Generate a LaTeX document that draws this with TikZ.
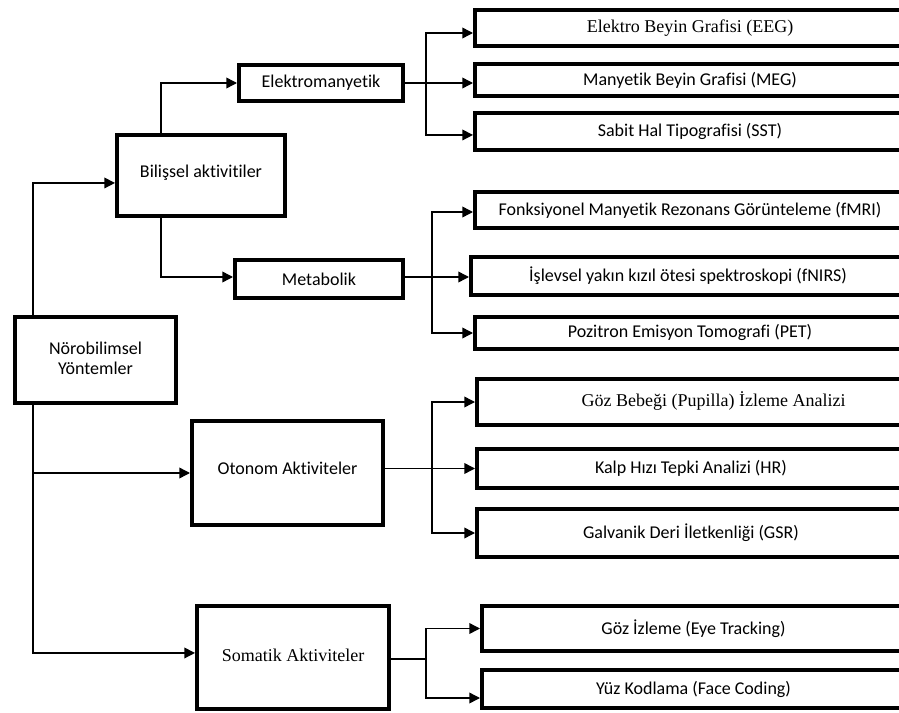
\documentclass[tikz,border=0pt]{standalone}
\usepackage{fontspec}
\setmainfont{Carlito}[Ligatures=NoCommon]
\newfontfamily\timesfont{Liberation Serif}
\usetikzlibrary{arrows.meta,positioning}
\newcommand{\shiftup}[2]{\raisebox{#1}{\begin{tabular}{@{}c@{}}#2\end{tabular}}}

\begin{document}
\begin{tikzpicture}[x=0.75pt,y=-0.75pt,
  box/.style={draw,rectangle,line width=3pt,inner sep=0pt,align=center,font=\fontsize{13.5}{15}\selectfont},
  wide/.style={box,minimum width=322.5pt},
  serif/.style={font=\fontsize{13.5}{15}\timesfont},
  conn/.style={line width=1.1pt,-{Triangle[length=8pt,width=8pt]}}]

  \useasboundingbox (0,0) rectangle (899,713);
  \fill[white] (0,0) rectangle (899,713);

  % left column
  \node[box,minimum width=120.75pt,minimum height=64.5pt] (noro) at (95.5,360) {\shiftup{6pt}{Nörobilimsel\\Yöntemler}};
  \node[box,minimum width=126pt,minimum height=60.75pt] (bilis) at (201,175.5) {\shiftup{6.4pt}{Bilişsel aktivitiler}};
  \node[box,minimum width=143.25pt,minimum height=78pt] (oton) at (287.5,473) {\shiftup{7.5pt}{Otonom Aktiviteler}};
  \node[box,serif,minimum width=144pt,minimum height=77.25pt] (somat) at (293,657.5) {\shiftup{-3.4pt}{Somatik Aktiviteler}};

  % middle column
  \node[box,minimum width=123pt,minimum height=27pt] (elek) at (321,83) {Elektromanyetik};
  \node[box,minimum width=126pt,minimum height=28.5pt] (metab) at (319,279) {Metabolik};

  % right column
  \node[wide,serif,minimum height=27pt] (eeg) at (690,28) {Elektro Beyin Grafisi (EEG)};
  \node[wide,minimum height=24pt] (meg) at (690,80) {Manyetik Beyin Grafisi (MEG)};
  \node[wide,minimum height=27.75pt] (sst) at (690,131.5) {Sabit Hal Tipografisi (SST)};
  \node[wide,minimum height=27pt] (fmri) at (690,210) {Fonksiyonel Manyetik Rezonans Görünteleme (fMRI)};
  \node[wide,minimum width=325.5pt,minimum height=28.5pt] (fnirs) at (688,276) {İşlevsel yakın kızıl ötesi spektroskopi (fNIRS)};
  \node[wide,minimum height=24pt] (pet) at (690,333) {\shiftup{-3pt}{Pozitron Emisyon Tomografi (PET)}};
  \node[wide,serif,minimum width=321pt,minimum height=34.5pt] (pupil) at (691,402) {\hspace*{34pt}\shiftup{3pt}{Göz Bebeği (Pupilla) İzleme Analizi}};
  \node[wide,minimum width=321pt,minimum height=29.25pt] (kalp) at (691,468.5) {Kalp Hızı Tepki Analizi (HR)};
  \node[wide,minimum width=321pt,minimum height=36pt] (gsr) at (691,533) {Galvanik Deri İletkenliği (GSR)};
  \node[wide,minimum width=317.25pt,minimum height=33.75pt] (eye) at (693.5,628.5) {Göz İzleme (Eye Tracking)};
  \node[wide,minimum width=317.25pt,minimum height=28.5pt] (face) at (693.5,689) {Yüz Kodlama (Face Coding)};

  % junctions
  \coordinate (emj) at (426,83);
  \coordinate (mbj) at (432,277);
  \coordinate (otj) at (432,468.5);
  \coordinate (soj) at (426,659);

  % connectors
  \draw[conn] ([xshift=15pt]noro.north west) |- ([yshift=-5.6pt]bilis.west);
  \draw[conn] ([xshift=15pt]noro.south west) |- (oton.west);
  \draw[conn] ([xshift=15pt]noro.south west) |- ([yshift=3.4pt]somat.west);

  \draw[conn] ([xshift=34.5pt]bilis.north west) |- (elek.west);
  \draw[conn] ([xshift=34.5pt]bilis.south west) |- ([yshift=1.5pt]metab.west);

  \draw[conn] (elek.east) -- (elek.east -| meg.west);
  \draw[conn] (emj) |- ([yshift=-3.75pt]eeg.west);
  \draw[conn] (emj) |- ([yshift=-2.6pt]sst.west);

  \draw[conn] ([yshift=1.5pt]metab.east) -- (mbj -| fnirs.west);
  \draw[conn] (mbj) |- ([yshift=-1.5pt]fmri.west);
  \draw[conn] (mbj) |- (pet.west);

  \draw[conn] (oton.east |- otj) -- (kalp.west);
  \draw[conn] (otj) |- (pupil.west);
  \draw[conn] (otj) |- (gsr.west);

  \draw[line width=1.1pt] (somat.east |- soj) -- (soj);
  \draw[conn] (soj) |- (eye.west);
  \draw[conn] (soj) |- ([yshift=-6.75pt]face.west);
\end{tikzpicture}
\end{document}
